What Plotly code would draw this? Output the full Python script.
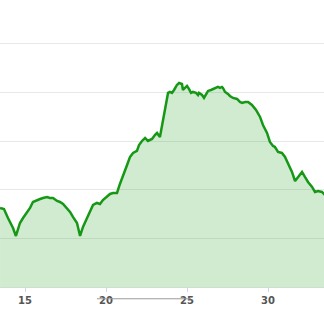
import plotly.graph_objects as go

# Distance (km) and elevation values
distance_km = [13.46, 13.70, 13.95, 14.26, 14.44, 14.69, 14.88, 15.12, 15.31, 15.49,
               15.74, 15.93, 16.11, 16.36, 16.54, 16.73, 16.98, 17.16, 17.35, 17.59,
               17.78, 17.96, 18.21, 18.40, 18.58, 18.83, 19.01, 19.20, 19.44, 19.63,
               19.81, 20.06, 20.25, 20.43, 20.68, 20.86, 21.05, 21.30, 21.48, 21.67,
               21.91, 22.04, 22.22, 22.41, 22.59, 22.84, 23.02, 23.15, 23.33, 23.46,
               23.64, 23.83, 23.95, 24.07, 24.20, 24.38, 24.51, 24.69, 24.75, 24.88,
               25.00, 25.12, 25.25, 25.37, 25.56, 25.68, 25.74, 25.93, 26.05, 26.23,
               26.30, 26.48, 26.60, 26.79, 26.91, 27.04, 27.16, 27.22, 27.35, 27.53,
               27.65, 27.84, 28.09, 28.27, 28.40, 28.58, 28.77, 29.01, 29.26, 29.51,
               29.69, 29.94, 30.12, 30.31, 30.43, 30.62, 30.86, 31.05, 31.23, 31.48,
               31.67, 31.85, 32.10, 32.28, 32.47, 32.72, 32.90, 33.09, 33.33, 33.58]
elevation = [162.6, 160.5, 142.0, 121.4, 105.0, 131.7, 142.0, 152.3, 162.6, 174.9,
             179.0, 181.1, 183.2, 185.2, 183.2, 183.2, 177.0, 174.9, 170.8, 162.6,
             154.4, 144.1, 131.7, 105.0, 123.5, 142.0, 156.4, 168.8, 172.9, 170.8,
             179.0, 185.2, 191.4, 193.5, 193.5, 212.0, 230.5, 251.1, 267.5, 275.8,
             279.9, 292.2, 300.5, 306.6, 300.5, 304.6, 312.8, 316.9, 308.7, 333.4,
             360.2, 399.3, 401.3, 399.3, 405.4, 415.7, 419.8, 417.8, 405.4, 409.5,
             413.7, 407.5, 399.3, 401.3, 399.3, 395.1, 399.3, 395.1, 389.0, 399.3,
             403.4, 405.4, 407.5, 409.5, 411.6, 409.5, 411.6, 409.5, 401.3, 397.2,
             393.1, 389.0, 386.9, 380.7, 378.7, 380.7, 380.7, 374.6, 364.3, 349.9,
             333.4, 316.9, 298.4, 290.2, 288.1, 277.8, 275.8, 267.5, 255.2, 236.7,
             218.1, 226.4, 236.7, 226.4, 216.1, 205.8, 195.5, 197.6, 195.5, 187.3]

x_ticks = [15, 20, 25, 30]
x_range = [13.457, 33.457]
y_range = [0, 590.5]
underline_span = [19.44, 25.25]

fig = go.Figure()
fig.add_trace(go.Scatter(
    x=distance_km, y=elevation, mode="lines",
    line=dict(color="#169816", width=2.5),
    fill="tozeroy", fillcolor="rgba(40,165,40,0.22)",
    hoverinfo="skip",
))

fig.add_shape(type="line", xref="x", yref="paper",
              x0=underline_span[0], x1=underline_span[1], y0=-0.041, y1=-0.041,
              line=dict(color="#9a9a9a", width=1))

fig.update_layout(
    width=324, height=315,
    margin=dict(l=0, r=0, t=0, b=28),
    plot_bgcolor="white", paper_bgcolor="white",
    showlegend=False,
    xaxis=dict(range=x_range, tickvals=x_ticks, ticktext=[str(t) for t in x_ticks],
               showgrid=False, zeroline=False,
               showline=True, linecolor="#cde0cd", linewidth=1,
               ticks="outside", ticklen=4, tickcolor="#ccd6eb",
               tickfont=dict(family="DejaVu Sans", size=10, color="#555555", weight=700)),
    yaxis=dict(range=y_range, dtick=100, showgrid=True, gridcolor="#e8e8e8",
               gridwidth=1, zeroline=False, showticklabels=False),
)

fig.write_html("out.html")
